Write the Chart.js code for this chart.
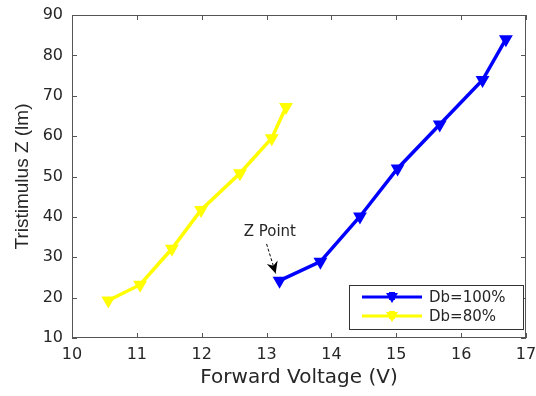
<!DOCTYPE html>
<html>
<head>
<meta charset="utf-8">
<script src="https://cdn.jsdelivr.net/npm/chart.js@4/dist/chart.umd.min.js"></script>
<style>
  html, body { margin: 0; padding: 0; background: #fff; }
  #wrap { width: 536px; height: 396px; }
</style>
</head>
<body>
<div id="wrap"><canvas id="chart" width="536" height="396"></canvas></div>
<script>
// data
const voltage100 = [13.20, 13.83, 14.44, 15.02, 15.67, 16.33, 16.69];
const tristim100 = [24.2, 28.9, 40.1, 52.0, 62.9, 73.9, 84.0];
const voltage80 = [10.56, 11.05, 11.54, 11.99, 12.59, 13.08, 13.30];
const tristim80 = [19.3, 23.2, 32.1, 41.7, 50.8, 59.5, 67.2];
const seriesLabels = ['Db=100%', 'Db=80%'];
const xTicks = [10, 11, 12, 13, 14, 15, 16, 17];
const yTicks = [10, 20, 30, 40, 50, 60, 70, 80, 90];

const WIDE = 'DejaVu Sans, Verdana, sans-serif';
const NARROW = 'Liberation Sans, Arial, Helvetica, sans-serif';
const TXT = '#262626';

const toPoints = (xs, ys) => xs.map((x, i) => ({ x: x, y: ys[i] }));

// box, inward ticks, legend and the "Z Point" note
const boxPlugin = {
    id: 'boxPlugin',
    afterDatasetsDraw(chart) {
        const { ctx, chartArea: a, scales } = chart;
        const xs = scales.x, ys = scales.y;
        ctx.save();
        ctx.strokeStyle = '#555';
        ctx.lineWidth = 1;
        ctx.strokeRect(a.left + 0.5, a.top + 0.5, a.right - a.left - 1, a.bottom - a.top - 1);
        ctx.beginPath();
        const tl = 5;
        xTicks.forEach(v => {
            const px = Math.round(xs.getPixelForValue(v)) + 0.5;
            ctx.moveTo(px, a.bottom); ctx.lineTo(px, a.bottom - tl);
            ctx.moveTo(px, a.top); ctx.lineTo(px, a.top + tl);
        });
        yTicks.forEach(v => {
            const py = Math.round(ys.getPixelForValue(v)) + 0.5;
            ctx.moveTo(a.left, py); ctx.lineTo(a.left + tl, py);
            ctx.moveTo(a.right, py); ctx.lineTo(a.right - tl, py);
        });
        ctx.stroke();

        // annotation
        ctx.fillStyle = TXT;
        ctx.font = '15px ' + WIDE;
        ctx.textAlign = 'center';
        ctx.textBaseline = 'middle';
        ctx.fillText('Z Point', xs.getPixelForValue(13.05), ys.getPixelForValue(36.3));
        const x0 = xs.getPixelForValue(13.0), y0 = ys.getPixelForValue(33.3);
        const x1 = xs.getPixelForValue(13.14), y1 = ys.getPixelForValue(26.0);
        ctx.strokeStyle = '#000';
        ctx.setLineDash([3, 2]);
        ctx.beginPath(); ctx.moveTo(x0, y0); ctx.lineTo(x1, y1); ctx.stroke();
        ctx.setLineDash([]);
        const ang = Math.atan2(y1 - y0, x1 - x0);
        ctx.fillStyle = '#000';
        ctx.beginPath();
        ctx.moveTo(x1, y1);
        ctx.lineTo(x1 - 13 * Math.cos(ang - 0.45), y1 - 13 * Math.sin(ang - 0.45));
        ctx.lineTo(x1 - 8 * Math.cos(ang), y1 - 8 * Math.sin(ang));
        ctx.lineTo(x1 - 13 * Math.cos(ang + 0.45), y1 - 13 * Math.sin(ang + 0.45));
        ctx.closePath();
        ctx.fill();

        // legend box
        const lx = 349, ly = 285, lw = 174, lh = 44;
        ctx.fillStyle = '#fff';
        ctx.fillRect(lx, ly, lw, lh);
        ctx.strokeStyle = '#333';
        ctx.lineWidth = 1;
        ctx.strokeRect(lx + 0.5, ly + 0.5, lw, lh);
        chart.data.datasets.forEach((ds, i) => {
            const cy = ly + 12 + i * 19;
            ctx.strokeStyle = ds.borderColor;
            ctx.lineWidth = 3;
            ctx.beginPath(); ctx.moveTo(362, cy); ctx.lineTo(422, cy); ctx.stroke();
            ctx.fillStyle = ds.borderColor;
            ctx.beginPath();
            ctx.moveTo(386, cy - 4); ctx.lineTo(398, cy - 4); ctx.lineTo(392, cy + 6);
            ctx.closePath(); ctx.fill();
            ctx.fillRect(389, cy - 5, 6, 8);
            ctx.fillStyle = TXT;
            ctx.font = '15px ' + WIDE;
            ctx.textAlign = 'left';
            ctx.fillText(ds.label, 429, cy + 1);
        });
        ctx.restore();
    }
};

const lineSet = (label, pts, color) => ({
    label: label,
    data: pts,
    borderColor: color,
    backgroundColor: color,
    borderWidth: 3.5,
    pointStyle: 'triangle',
    rotation: 180,
    pointRadius: 6,
    pointBorderWidth: 2,
    tension: 0
});

new Chart(document.getElementById('chart'), {
    type: 'line',
    data: {
        datasets: [
            lineSet(seriesLabels[0], toPoints(voltage100, tristim100), '#0000ff'),
            lineSet(seriesLabels[1], toPoints(voltage80, tristim80), '#ffff00')
        ]
    },
    options: {
        responsive: false,
        animation: false,
        layout: { padding: { left: 0, right: 10, top: 15, bottom: 0 } },
        plugins: { legend: { display: false }, tooltip: { enabled: false } },
        scales: {
            x: {
                type: 'linear', min: 10, max: 17,
                afterBuildTicks: s => { s.ticks = xTicks.map(v => ({ value: v })); },
                afterFit: s => { s.height = 58; s.paddingLeft = 0; s.paddingRight = 0; },
                grid: { display: false, drawTicks: false },
                border: { display: false },
                ticks: { color: TXT, font: { family: WIDE, size: 16 }, padding: 7, maxRotation: 0 },
                title: { display: true, text: 'Forward Voltage (V)', color: TXT, font: { family: WIDE, size: 20 }, padding: { top: 0, bottom: 6 } }
            },
            y: {
                type: 'linear', min: 10, max: 90,
                afterBuildTicks: s => { s.ticks = yTicks.map(v => ({ value: v })); },
                afterFit: s => { s.width = 72; s.paddingTop = 0; s.paddingBottom = 0; },
                grid: { display: false, drawTicks: false },
                border: { display: false },
                ticks: { color: TXT, font: { family: WIDE, size: 16 }, padding: 9 },
                title: { display: true, text: 'Tristimulus Z (lm)', color: TXT, font: { family: NARROW, size: 19 }, padding: { top: 11, bottom: 0 } }
            }
        }
    },
    plugins: [boxPlugin]
});
</script>
</body>
</html>
